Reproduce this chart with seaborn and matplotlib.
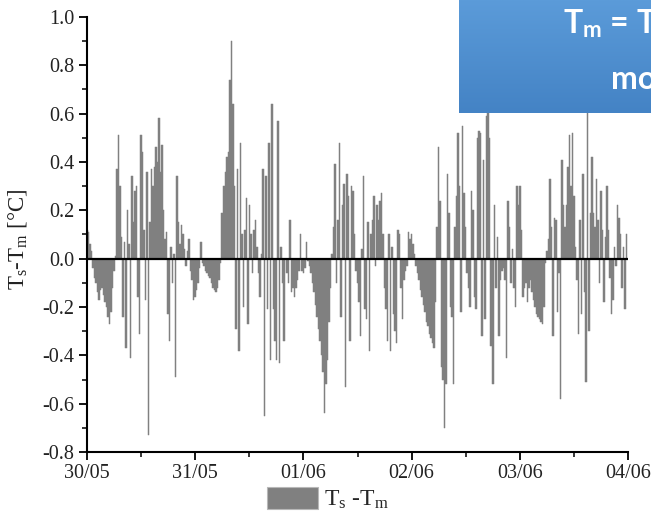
import numpy as np
import pandas as pd
import matplotlib
matplotlib.use("Agg")
import matplotlib.pyplot as plt
from matplotlib.patches import Patch
from matplotlib.colors import LinearSegmentedColormap
from matplotlib.ticker import MultipleLocator, FixedLocator, FormatStrFormatter
import seaborn as sns

# Surface minus model temperature difference, 20-minute samples (72 per day)
day1 = [0.12, 0.11, 0.06, 0.03, -0.04, -0.08, -0.10, -0.14, -0.17, -0.13,
        -0.12, -0.15, -0.18, -0.20, -0.24, -0.27, -0.22, -0.12, -0.05, 0.01,
        0.37, 0.51, 0.30, 0.09, -0.24, 0.07, -0.37, 0.20, 0.06, -0.41,
        0.34, 0.15, 0.28, 0.30, -0.16, -0.31, 0.51, 0.44, 0.12, -0.17,
        0.36, -0.73, 0.15, 0.37, 0.30, 0.38, 0.46, 0.40, 0.58, 0.36,
        0.47, 0.20, 0.08, 0.11, -0.23, -0.34, 0.05, -0.10, 0.02, -0.49,
        0.34, 0.15, 0.06, 0.14, 0.10, 0.04, -0.03, 0.03, 0.08, -0.05,
        -0.09, -0.17]
day2 = [-0.16, -0.13, -0.10, -0.04, 0.07, -0.02, -0.03, -0.05, -0.06, -0.07,
        -0.08, -0.10, -0.12, -0.13, -0.14, -0.12, -0.09, -0.02, 0.19, 0.30,
        0.36, 0.42, 0.44, 0.74, 0.90, 0.64, 0.30, -0.29, 0.37, -0.38,
        0.48, 0.10, -0.20, 0.12, 0.25, -0.27, 0.22, 0.10, -0.06, 0.12,
        0.16, 0.05, -0.06, -0.16, 0.02, 0.37, -0.65, 0.34, -0.21, 0.48,
        -0.42, 0.64, -0.21, -0.34, -0.42, 0.57, -0.43, 0.05, -0.10, -0.34,
        0.00, -0.06, -0.10, 0.16, -0.14, -0.12, -0.16, -0.12, -0.09, -0.05,
        0.10, -0.05]
day3 = [-0.06, -0.04, 0.07, -0.01, -0.03, -0.06, -0.10, -0.14, -0.19, -0.24,
        -0.29, -0.34, -0.40, -0.47, -0.64, -0.52, -0.42, -0.26, -0.12, 0.02,
        0.13, 0.39, -0.10, 0.16, 0.48, -0.24, 0.22, 0.31, -0.53, 0.35,
        0.26, -0.34, 0.30, 0.28, 0.10, -0.05, -0.10, -0.18, -0.32, 0.04,
        0.34, -0.21, -0.25, 0.15, -0.38, 0.10, 0.16, 0.26, -0.03, 0.22,
        0.16, 0.24, 0.27, 0.10, -0.12, -0.21, -0.34, 0.10, -0.38, 0.05,
        -0.23, -0.30, -0.35, 0.12, 0.10, -0.12, -0.25, -0.09, -0.05, -0.03,
        0.11, 0.08]
day4 = [0.10, 0.06, 0.02, -0.03, -0.06, -0.09, -0.13, -0.16, -0.19, -0.22,
        -0.26, -0.28, -0.31, -0.33, -0.35, -0.37, -0.18, 0.13, 0.46, 0.24,
        -0.45, -0.50, -0.70, -0.52, 0.35, 0.19, -0.20, -0.24, -0.52, 0.13,
        0.26, 0.52, 0.30, -0.22, 0.55, 0.27, 0.13, -0.06, -0.12, -0.20,
        0.28, 0.20, -0.16, -0.21, 0.50, 0.53, 0.52, -0.32, 0.41, -0.25,
        0.59, 0.64, 0.50, -0.36, -0.52, 0.22, -0.12, 0.09, -0.32, -0.09,
        -0.05, -0.04, -0.09, -0.41, 0.24, 0.13, -0.10, 0.04, -0.12, -0.20,
        0.30, 0.22]
day5 = [0.30, 0.12, -0.16, -0.12, -0.10, -0.18, -0.12, -0.09, -0.14, -0.17,
        -0.20, -0.23, -0.24, -0.25, -0.26, -0.27, -0.20, -0.02, 0.03, 0.08,
        0.33, 0.13, -0.32, 0.17, 0.16, -0.22, -0.06, -0.58, 0.41, 0.22,
        0.13, 0.22, 0.38, 0.51, 0.30, 0.52, 0.26, 0.05, -0.09, -0.31,
        0.16, -0.23, 0.35, -0.14, -0.51, 0.66, -0.30, 0.19, 0.42, 0.19,
        0.13, 0.33, 0.16, -0.10, 0.28, 0.12, -0.18, 0.09, 0.30, 0.12,
        -0.08, -0.23, -0.17, 0.05, -0.03, 0.22, 0.17, 0.10, -0.12, 0.05,
        -0.21, 0.10]

date_labels = ["30/05", "31/05", "01/06", "02/06", "03/06", "04/06"]
samples_per_day = 72

sns.set_theme(style="ticks")
plt.rcParams["font.family"] = ["Liberation Serif", "DejaVu Serif"]
plt.rcParams["mathtext.fontset"] = "custom"
plt.rcParams["mathtext.rm"] = "Liberation Serif"
plt.rcParams["mathtext.it"] = "Liberation Serif:italic"
plt.rcParams["mathtext.bf"] = "Lato:bold"
plt.rcParams["axes.unicode_minus"] = False

values = np.concatenate([day1, day2, day3, day4, day5])
days = np.arange(len(values)) / samples_per_day
df = pd.DataFrame({"day": days, "dT": values})

W, H = 651, 516
fig = plt.figure(figsize=(W / 100, H / 100), dpi=100)
fig.patch.set_facecolor("white")
ax = fig.add_axes([87 / W, 1 - 452 / H, (628 - 87) / W, (452 - 17) / H])

bar_gray = "#808080"
sns.barplot(data=df, x="day", y="dT", native_scale=True, color=bar_gray,
            saturation=1, width=1.0, errorbar=None, edgecolor=bar_gray,
            linewidth=0.35, ax=ax)
ax.axhline(0, color="black", lw=1.6, zorder=3)

ax.set_xlim(0, 5)
ax.set_ylim(-0.8, 1.0)
ax.xaxis.set_major_locator(FixedLocator(range(len(date_labels))))
ax.set_xticklabels(date_labels)
ax.xaxis.set_minor_locator(MultipleLocator(0.5))
ax.yaxis.set_major_locator(MultipleLocator(0.2))
ax.yaxis.set_minor_locator(MultipleLocator(0.1))
ax.yaxis.set_major_formatter(FormatStrFormatter("%.1f"))
ax.set_xlabel("")
ax.set_ylabel(r"T$_\mathrm{s}$-T$_\mathrm{m}$ [°C]", fontsize=16.5, color="#222222")
ax.yaxis.set_label_coords((29 - 87) / (628 - 87), 0.49)
sns.despine(ax=ax)
for s in ("left", "bottom"):
    ax.spines[s].set_linewidth(1.5)
    ax.spines[s].set_color("black")
ax.tick_params(axis="both", which="major", length=6, width=1.3, color="black",
               labelsize=14.5, labelcolor="#222222", direction="out", pad=3)
ax.tick_params(axis="both", which="minor", length=3.5, width=1.1, color="black", direction="out")

# Legend below the axes
handle = Patch(facecolor=bar_gray, edgecolor="#b8b8b8", linewidth=0.8)
fig.legend([handle], [r"T$_\mathrm{s}$ -T$_\mathrm{m}$"], loc="center",
           bbox_to_anchor=(328 / W, 1 - 499 / H), frameon=False, fontsize=17,
           handlelength=2.15, handleheight=1.05, handletextpad=0.25,
           borderpad=0, borderaxespad=0)

# Blue annotation box in the top-right corner
box_ax = fig.add_axes([459 / W, 1 - 113 / H, 1 - 459 / W, 113 / H])
grad = np.linspace(0, 1, 64)[:, None]
cmap = LinearSegmentedColormap.from_list("box", ["#5b9bd9", "#4483c5"])
box_ax.imshow(grad, aspect="auto", cmap=cmap, extent=[0, 1, 0, 1], origin="upper")
box_ax.set_axis_off()

fig.text(563 / W, 1 - 34 / H, r"T$_\mathbf{m}$ = T", color="white", fontsize=23,
         family="Lato", weight="bold", va="baseline", ha="left")
fig.text(611 / W, 1 - 89 / H, "mo", color="white", fontsize=23,
         family="Lato", weight="bold", va="baseline", ha="left")

fig.savefig("out.png", dpi=100)
